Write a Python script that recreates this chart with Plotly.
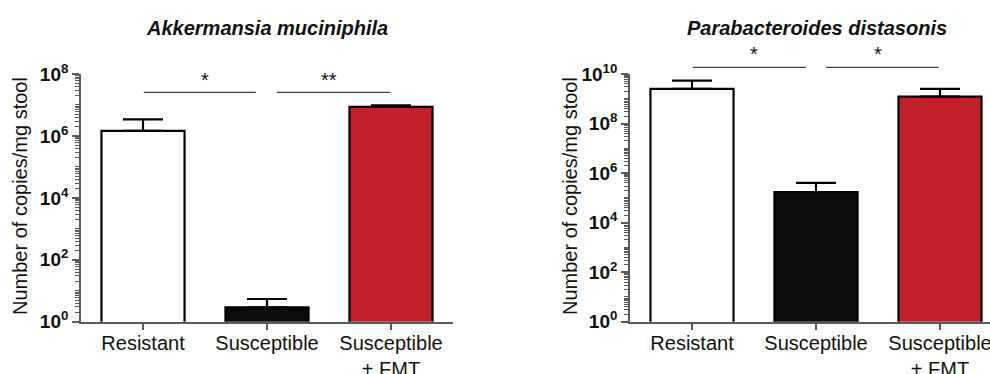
import plotly.graph_objects as go

categories = ["Resistant", "Susceptible", "Susceptible<br>+ FMT"]
bar_colors = ["#ffffff", "#0b0b0b", "#c1222a"]

akk_values = [1.45e6, 2.9, 8.7e6]
akk_err_top = [3.4e6, 5.4, 9.8e6]

para_values = [2.5e9, 1.7e5, 1.23e9]
para_err_top = [5.4e9, 4.0e5, 2.5e9]

akk_tickvals = [1, 1e2, 1e4, 1e6, 1e8]
akk_ticktext = ["10<sup>0</sup>", "10<sup>2</sup>", "10<sup>4</sup>", "10<sup>6</sup>", "10<sup>8</sup>"]
para_tickvals = [1, 1e2, 1e4, 1e6, 1e8, 1e10]
para_ticktext = ["10<sup>0</sup>", "10<sup>2</sup>", "10<sup>4</sup>", "10<sup>6</sup>", "10<sup>8</sup>", "10<sup>10</sup>"]

FONT = "Liberation Sans, Arial, sans-serif"
W, H = 990, 374

def px_x(p):
    return p / W

def px_y(p):
    return 1 - p / H

fig = go.Figure()

fig.add_trace(go.Bar(
    x=categories, y=akk_values, xaxis="x", yaxis="y",
    marker=dict(color=bar_colors, line=dict(color="#000000", width=2.2)),
    width=0.67,
    error_y=dict(type="data", symmetric=False,
                 array=[t - v for t, v in zip(akk_err_top, akk_values)],
                 arrayminus=[0, 0, 0], color="#000000", thickness=2.2, width=20),
    showlegend=False,
))
fig.add_trace(go.Bar(
    x=categories, y=para_values, xaxis="x2", yaxis="y2",
    marker=dict(color=bar_colors, line=dict(color="#000000", width=2.2)),
    width=0.67,
    error_y=dict(type="data", symmetric=False,
                 array=[t - v for t, v in zip(para_err_top, para_values)],
                 arrayminus=[0, 0, 0], color="#000000", thickness=2.2, width=20),
    showlegend=False,
))

ydom = [px_y(321.7), px_y(74)]
axis_line = dict(showline=True, linecolor="#5a5a5a", linewidth=1.6, showgrid=False, zeroline=False)

fig.update_layout(
    width=W, height=H,
    margin=dict(l=0, r=0, t=0, b=0, autoexpand=False),
    plot_bgcolor="white", paper_bgcolor="white",
    font=dict(family=FONT, size=20, color="#111111"),
    xaxis=dict(domain=[px_x(81), px_x(453)], range=[-0.5, 2.5], anchor="y",
               type="category", ticks="outside", ticklen=6, tickwidth=1.6, tickcolor="#5a5a5a",
               tickfont=dict(size=20), ticklabelstandoff=-4, automargin=False, **axis_line),
    yaxis=dict(domain=ydom, type="log", range=[0, 8], anchor="x",
               tickvals=akk_tickvals, ticktext=akk_ticktext,
               ticks="outside", ticklen=7, tickwidth=1.6, tickcolor="#5a5a5a",
               tickfont=dict(size=19, family=FONT, weight="bold"),
               minor=dict(ticks="outside", ticklen=4, tickwidth=1, tickcolor="#5a5a5a", dtick="D1"),
               automargin=False, **axis_line),
    xaxis2=dict(domain=[px_x(630), 1.0], range=[-0.5, (990 - 630) / 124 - 0.5], anchor="y2",
                type="category", ticks="outside", ticklen=6, tickwidth=1.6, tickcolor="#5a5a5a",
                tickfont=dict(size=20), ticklabelstandoff=-4, automargin=False, **axis_line),
    yaxis2=dict(domain=ydom, type="log", range=[0, 10], anchor="x2",
                tickvals=para_tickvals, ticktext=para_ticktext,
                ticks="outside", ticklen=7, tickwidth=1.6, tickcolor="#5a5a5a",
                tickfont=dict(size=19, family=FONT, weight="bold"),
                minor=dict(ticks="outside", ticklen=4, tickwidth=1, tickcolor="#5a5a5a", dtick="D1"),
                automargin=False, **axis_line),
)

# significance bars
sig_lines = [
    ("x", 0.006, 0.91, px_y(92.3)),
    ("x", 1.08, 1.995, px_y(92.3)),
    ("x2", 0.006, 0.92, px_y(67.3)),
    ("x2", 1.08, 1.99, px_y(67.3)),
]
for xr, a, b, yy in sig_lines:
    fig.add_shape(type="line", xref=xr, yref="paper", x0=a, x1=b, y0=yy, y1=yy,
                  line=dict(color="#444444", width=1.3))

stars = [
    ("x", 0.5, px_y(80), "*"),
    ("x", 1.5, px_y(80), "**"),
    ("x2", 0.5, px_y(54), "*"),
    ("x2", 1.5, px_y(54), "*"),
]
for xr, xx, yy, t in stars:
    fig.add_annotation(xref=xr, yref="paper", x=xx, y=yy, text=t, showarrow=False,
                       font=dict(size=20, family=FONT, color="#111111"),
                       xanchor="center", yanchor="middle")

titles = [
    (px_x(267), "<b><i>Akkermansia muciniphila</i></b>"),
    (px_x(816.7), "<b><i>Parabacteroides distasonis</i></b>"),
]
for xx, t in titles:
    fig.add_annotation(xref="paper", yref="paper", x=xx, y=px_y(28), text=t, showarrow=False,
                       font=dict(size=20, family=FONT, color="#111111"),
                       xanchor="center", yanchor="middle")

for xx in [20, 570]:
    fig.add_annotation(xref="paper", yref="paper", x=px_x(xx), y=px_y(196), text="Number of copies/mg stool",
                       showarrow=False, textangle=-90,
                       font=dict(size=20, family=FONT, color="#111111"),
                       xanchor="center", yanchor="middle")

fig.write_html("out.html", config={"displayModeBar": False},
               post_script="document.body.style.margin='0';document.body.style.overflow='hidden';")
